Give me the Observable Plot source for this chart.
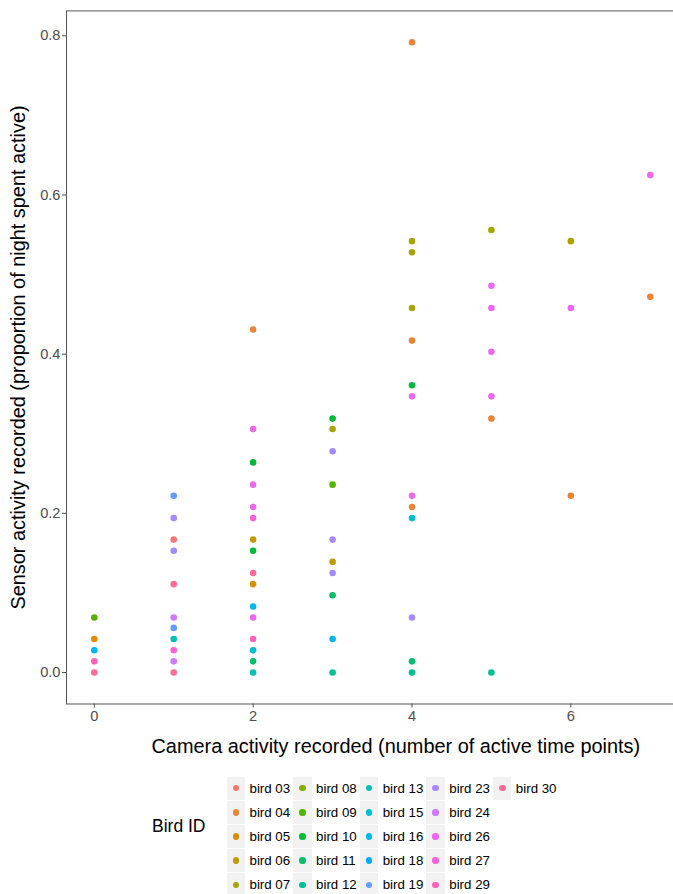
<!DOCTYPE html>
<html>
<head>
<meta charset="utf-8">
<script src="https://cdn.jsdelivr.net/npm/d3@7"></script>
<script src="https://cdn.jsdelivr.net/npm/@observablehq/plot@0.6"></script>
<style>
  html, body { margin: 0; padding: 0; background: #fff; overflow: hidden; }
  body { width: 673px; height: 894px; position: relative; font-family: "Liberation Sans", Arial, sans-serif; }
  #chart { position: absolute; left: 0; top: 0; width: 673px; overflow: hidden; }
  #legend { position: absolute; left: 0; top: 0; width: 673px; }
  .ltitle { position: absolute; left: 152px; top: 816px; font-size: 17.5px; color: #000; }
  .lgrid { position: absolute; left: 226.7px; top: 776.7px; display: grid;
           grid-template-columns: repeat(5, 66.6px); grid-template-rows: repeat(5, 24.2px);
           grid-auto-flow: column; }
  .cell { display: flex; align-items: flex-start; }
  .key { width: 18.3px; height: 23px; background: #f2f2f2; display: flex; align-items: center; justify-content: center; }
  .dot { width: 6.6px; height: 6.6px; border-radius: 50%; }
  .lab { margin-left: 4.5px; font-size: 13.3px; line-height: 23px; color: #000; white-space: nowrap; }
</style>
</head>
<body>
<div id="chart"></div>
<div id="legend"></div>
<script>
// ---- data ----
const birds = ["bird 03","bird 04","bird 05","bird 06","bird 07","bird 08","bird 09","bird 10","bird 11","bird 12",
               "bird 13","bird 15","bird 16","bird 18","bird 19","bird 23","bird 24","bird 26","bird 27","bird 29","bird 30"];

const camera = [
  0,0,0,0,0,
  1,1,1,1,1,1,1,1,1,1,1,
  2,2,2,2,2,2,2,2,2,2,2,2,2,2,2,2,
  3,3,3,3,3,3,3,3,3,3,
  4,4,4,4,4,4,4,4,4,4,4,4,4,
  5,5,5,5,5,5,5,
  6,6,6,
  7,7
];
const sensor = [
  0.069,0.042,0.028,0.014,0.000,
  0.222,0.194,0.167,0.153,0.111,0.069,0.056,0.042,0.028,0.014,0.000,
  0.431,0.306,0.264,0.236,0.208,0.194,0.167,0.153,0.125,0.111,0.083,0.069,0.042,0.028,0.014,0.000,
  0.319,0.306,0.278,0.236,0.167,0.139,0.125,0.097,0.042,0.000,
  0.792,0.542,0.528,0.458,0.417,0.361,0.347,0.222,0.208,0.194,0.069,0.014,0.000,
  0.556,0.486,0.458,0.403,0.347,0.319,0.000,
  0.542,0.458,0.222,
  0.625,0.472
];
const birdId = [
  "bird 09","bird 05","bird 16","bird 29","bird 30",
  "bird 19","bird 23","bird 03","bird 23","bird 30","bird 24","bird 19","bird 13","bird 27","bird 24","bird 30",
  "bird 04","bird 26","bird 10","bird 26","bird 26","bird 27","bird 06","bird 10","bird 30","bird 05","bird 16","bird 26","bird 29","bird 15","bird 11","bird 13",
  "bird 10","bird 07","bird 23","bird 09","bird 23","bird 06","bird 23","bird 11","bird 16","bird 12",
  "bird 04","bird 07","bird 07","bird 07","bird 04","bird 10","bird 26","bird 26","bird 04","bird 15","bird 23","bird 11","bird 12",
  "bird 07","bird 26","bird 26","bird 26","bird 26","bird 04","bird 12",
  "bird 07","bird 26","bird 04",
  "bird 26","bird 04"
];
const xTicks = [0, 2, 4, 6];
const yTicks = [0, 0.2, 0.4, 0.6, 0.8];
const xTitle = "Camera activity recorded (number of active time points)";
const yTitle = "Sensor activity recorded (proportion of night spent active)";
const legendTitle = "Bird ID";

// ---- ggplot-like hue palette (polar LUV, c=100, l=65) ----
function polarLuvHex(h, c, l) {
  const Xn = 95.047, Yn = 100, Zn = 108.883;
  const hr = h * Math.PI / 180;
  const U = c * Math.cos(hr), V = c * Math.sin(hr);
  const Y = l > 8 ? Yn * Math.pow((l + 16) / 116, 3) : Yn * l / 903.3;
  const den = Xn + 15 * Yn + 3 * Zn;
  const un = 4 * Xn / den, vn = 9 * Yn / den;
  const u = U / (13 * l) + un, v = V / (13 * l) + vn;
  const X = 9 * Y * u / (4 * v);
  const Z = -X / 3 - 5 * Y + 3 * Y / v;
  const x = X / 100, y = Y / 100, z = Z / 100;
  let r = 3.240479 * x - 1.537150 * y - 0.498535 * z;
  let g = -0.969256 * x + 1.875992 * y + 0.041556 * z;
  let b = 0.055648 * x - 0.204043 * y + 1.057311 * z;
  const gam = t => t <= 0.0031308 ? 12.92 * t : 1.055 * Math.pow(t, 1 / 2.4) - 0.055;
  const cl = t => Math.max(0, Math.min(1, gam(t)));
  return d3.rgb(cl(r) * 255, cl(g) * 255, cl(b) * 255).formatHex();
}
const palette = birds.map((_, i) => polarLuvHex(15 + i * 360 / birds.length, 100, 65));

const data = camera.map((c, i) => ({camera: c, sensor: sensor[i], bird: birdId[i]}));

const font = "'Liberation Sans', Arial, sans-serif";
const plot = Plot.plot({
  width: 673,
  height: 765,
  marginLeft: 66,
  marginRight: -4.6,
  marginTop: 10.4,
  marginBottom: 61.5,
  style: {fontFamily: font, background: "#fff", overflow: "hidden"},
  x: {domain: [-0.35, 7.35]},
  y: {domain: [-0.0396, 0.8313]},
  color: {domain: birds, range: palette},
  marks: [
    Plot.frame({stroke: "#555", strokeWidth: 1}),
    Plot.axisX({ticks: xTicks, tickSize: 4, tickPadding: 2.5, fontSize: 14.6, color: "#4d4d4d", label: null}),
    Plot.axisY({ticks: yTicks, tickSize: 4, tickPadding: 2, fontSize: 14.6, color: "#4d4d4d", tickFormat: d3.format(".1f"), label: null}),
    Plot.dot(data, {x: "camera", y: "sensor", fill: "bird", r: 3.3, stroke: "none"}),
    Plot.text([xTitle], {frameAnchor: "bottom", textAnchor: "middle", dx: 23.5, dy: 43, fontSize: 19.9, fill: "#000", lineAnchor: "middle"}),
    Plot.text([yTitle], {frameAnchor: "left", textAnchor: "middle", dx: -48, rotate: -90, fontSize: 19.9, fill: "#000", lineAnchor: "middle"})
  ]
});
document.getElementById("chart").appendChild(plot);

// ---- legend ----
const legend = document.getElementById("legend");
const t = document.createElement("div");
t.className = "ltitle";
t.textContent = legendTitle;
legend.appendChild(t);
const grid = document.createElement("div");
grid.className = "lgrid";
birds.forEach((b, i) => {
  const cell = document.createElement("div");
  cell.className = "cell";
  const key = document.createElement("div");
  key.className = "key";
  const dot = document.createElement("div");
  dot.className = "dot";
  dot.style.background = palette[i];
  key.appendChild(dot);
  const lab = document.createElement("span");
  lab.className = "lab";
  lab.textContent = b;
  cell.appendChild(key);
  cell.appendChild(lab);
  grid.appendChild(cell);
});
legend.appendChild(grid);
</script>
</body>
</html>
